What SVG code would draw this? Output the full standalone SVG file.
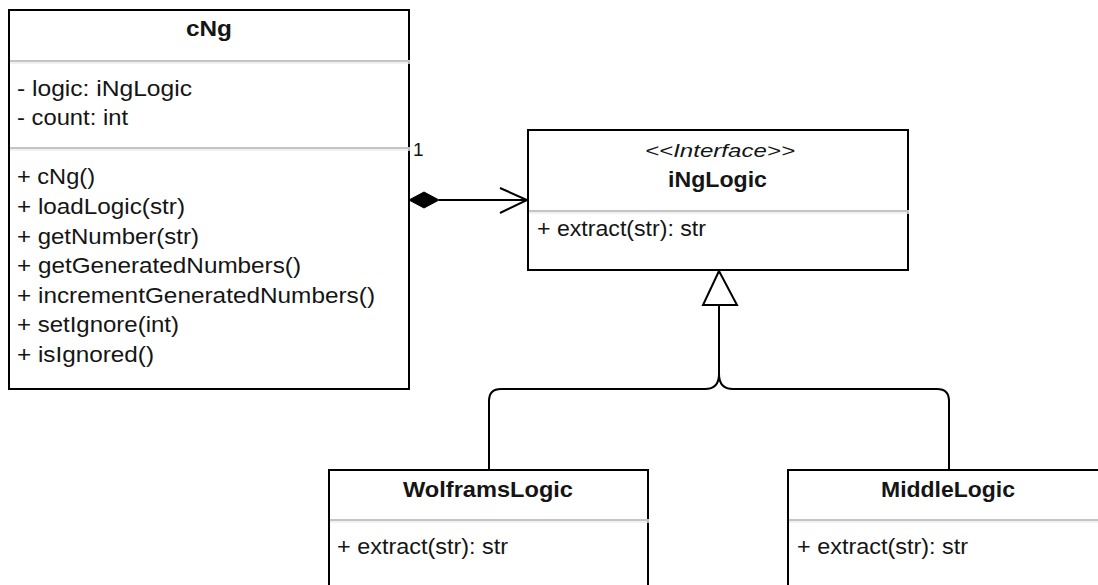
<svg xmlns="http://www.w3.org/2000/svg" width="1098" height="585" viewBox="0 0 1098 585">
<style>
.box{fill:#fff;stroke:#000;stroke-width:2}
.div{stroke:#c4c4c4;stroke-width:2}
.div2{stroke:#ececec;stroke-width:1.5}
.t{font-family:"Liberation Sans",Arial,sans-serif;font-size:22px;fill:#151515}
.b{font-weight:bold;font-size:21.5px}
.i{font-style:italic;font-size:18px}
.n{font-size:19px}
.ln{fill:none;stroke:#000;stroke-width:2}
</style>
<rect width="1098" height="585" fill="#fff"/>
<g id="cNg">
<rect class="box" x="9" y="10" width="400" height="379"/>
<line class="div" x1="10" y1="61" x2="410" y2="61"/>
<line class="div2" x1="10" y1="63" x2="410" y2="63"/>
<line class="div" x1="10" y1="148" x2="410" y2="148"/>
<line class="div2" x1="10" y1="150" x2="410" y2="150"/>
<text class="t b" x="186" y="36" textLength="46" lengthAdjust="spacingAndGlyphs">cNg</text>
<text class="t" x="17" y="96" textLength="175" lengthAdjust="spacingAndGlyphs">- logic: iNgLogic</text>
<text class="t" x="17" y="125" textLength="111" lengthAdjust="spacingAndGlyphs">- count: int</text>
<text class="t" x="17" y="184" textLength="78" lengthAdjust="spacingAndGlyphs">+ cNg()</text>
<text class="t" x="17" y="214" textLength="168" lengthAdjust="spacingAndGlyphs">+ loadLogic(str)</text>
<text class="t" x="17" y="243.5" textLength="182" lengthAdjust="spacingAndGlyphs">+ getNumber(str)</text>
<text class="t" x="17" y="273" textLength="284" lengthAdjust="spacingAndGlyphs">+ getGeneratedNumbers()</text>
<text class="t" x="17" y="302.5" textLength="358" lengthAdjust="spacingAndGlyphs">+ incrementGeneratedNumbers()</text>
<text class="t" x="17" y="332" textLength="162" lengthAdjust="spacingAndGlyphs">+ setIgnore(int)</text>
<text class="t" x="17" y="361.5" textLength="137" lengthAdjust="spacingAndGlyphs">+ isIgnored()</text>
</g>
<g id="iNgLogic">
<rect class="box" x="528" y="130" width="380" height="140"/>
<line class="div" x1="529" y1="211" x2="909" y2="211"/>
<line class="div2" x1="529" y1="213" x2="909" y2="213"/>
<text class="t i" x="645" y="157" textLength="150" lengthAdjust="spacingAndGlyphs">&lt;&lt;Interface&gt;&gt;</text>
<text class="t b" x="668" y="187" textLength="99" lengthAdjust="spacingAndGlyphs">iNgLogic</text>
<text class="t" x="537" y="236" textLength="169" lengthAdjust="spacingAndGlyphs">+ extract(str): str</text>
</g>
<g id="WolframsLogic">
<rect class="box" x="329" y="470" width="319" height="140"/>
<line class="div" x1="330" y1="520" x2="649" y2="520"/>
<line class="div2" x1="330" y1="522" x2="649" y2="522"/>
<text class="t b" x="403" y="497" textLength="170" lengthAdjust="spacingAndGlyphs">WolframsLogic</text>
<text class="t" x="337" y="554" textLength="171" lengthAdjust="spacingAndGlyphs">+ extract(str): str</text>
</g>
<g id="MiddleLogic">
<rect class="box" x="788" y="470" width="320" height="140"/>
<line class="div" x1="789" y1="520" x2="1098" y2="520"/>
<line class="div2" x1="789" y1="522" x2="1098" y2="522"/>
<text class="t b" x="881" y="497" textLength="134" lengthAdjust="spacingAndGlyphs">MiddleLogic</text>
<text class="t" x="797" y="554" textLength="171" lengthAdjust="spacingAndGlyphs">+ extract(str): str</text>
</g>
<g id="connectors">
<polygon points="409,200 424,192 439,200 424,208" fill="#000" stroke="#000" stroke-width="1"/>
<line class="ln" x1="439" y1="200" x2="527" y2="200"/>
<polyline class="ln" points="500,188 527,200 500,213"/>
<text class="t n" x="413" y="156">1</text>
<polygon points="719,271 703,305 737,305" fill="#fff" stroke="#000" stroke-width="2"/>
<line class="ln" x1="719" y1="305" x2="719" y2="374"/>
<path class="ln" d="M719,374 Q719,389 705,389 H501 Q489,389 489,401 V470"/>
<path class="ln" d="M719,374 Q719,389 733,389 H937 Q949,389 949,401 V470"/>
</g>
</svg>
